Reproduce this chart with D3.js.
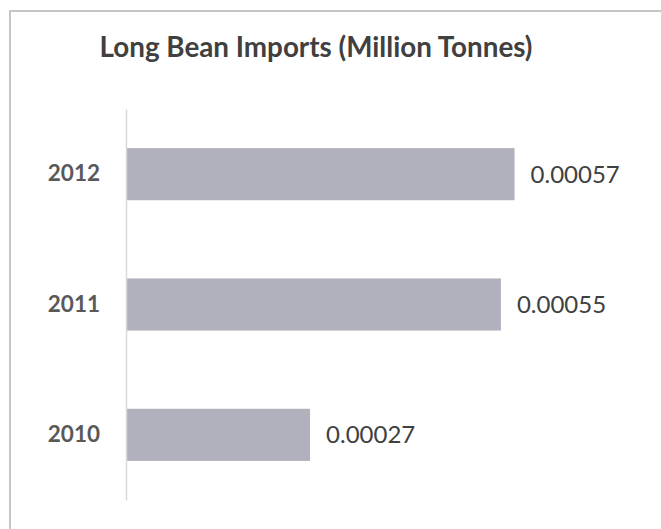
<!DOCTYPE html>
<html>
<head>
<meta charset="utf-8">
<script src="https://cdn.jsdelivr.net/npm/d3@7"></script>
<style>
  body { margin: 0; background: #fff; }
  svg { display: block; }
</style>
</head>
<body>
<div id="chart"></div>
<script>
// data
let years = ["2012", "2011", "2010"];
let imports = [0.00057, 0.00055, 0.00027];
let valueLabels = ["0.00057", "0.00055", "0.00027"];

let width = 661, height = 529;
let margin = { top: 109, bottom: 29, left: 126, right: 126 };

let svg = d3.select("#chart")
    .append("svg")
    .attr("width", width)
    .attr("height", height);

// chart frame (runs off the right and bottom edge)
svg.append("rect")
    .attr("x", 10)
    .attr("y", 11)
    .attr("width", 700)
    .attr("height", 600)
    .attr("fill", "#fff")
    .attr("stroke", "#c6c6c6")
    .attr("stroke-width", 2);

svg.append("text")
    .attr("x", 316)
    .attr("y", 57)
    .attr("text-anchor", "middle")
    .style("font-family", "Lato, 'Open Sans', sans-serif")
    .style("font-weight", "bold")
    .style("font-size", "27.8px")
    .style("fill", "#404040")
    .text("Long Bean Imports (Million Tonnes)");

let yScale = d3.scaleBand()
    .domain(years)
    .range([margin.top, height - margin.bottom])
    .paddingInner(0.6)
    .paddingOuter(0.3);

let xScale = d3.scaleLinear()
    .domain([0, 0.0006])
    .range([margin.left, width - margin.right]);

let rows = years.map((y, i) => ({ year: y, value: imports[i], label: valueLabels[i] }));

svg.selectAll("rect.bar")
    .data(rows)
    .enter()
    .append("rect")
    .attr("class", "bar")
    .attr("x", xScale(0))
    .attr("y", d => yScale(d.year))
    .attr("width", d => xScale(d.value) - xScale(0))
    .attr("height", yScale.bandwidth())
    .attr("fill", "#b1b1bd");

// vertical category axis, no ticks
let axisY = d3.axisLeft(yScale).tickSize(0).tickPadding(26);
let gy = svg.append("g")
    .attr("transform", "translate(" + xScale(0) + ",0)")
    .call(axisY);
gy.select(".domain").attr("stroke", "#d9d9d9").attr("stroke-width", 1.5);
gy.selectAll("text")
    .style("font-family", "Lato, 'Open Sans', sans-serif")
    .style("font-weight", "bold")
    .style("font-size", "22.5px")
    .style("fill", "#595959");

svg.selectAll("text.value")
    .data(rows)
    .enter()
    .append("text")
    .attr("class", "value")
    .attr("x", d => xScale(d.value) + 16)
    .attr("y", d => yScale(d.year) + yScale.bandwidth() / 2)
    .attr("dy", "0.35em")
    .style("font-family", "Lato, 'Open Sans', sans-serif")
    .style("font-size", "24px")
    .style("fill", "#404040")
    .text(d => d.label);
</script>
</body>
</html>
